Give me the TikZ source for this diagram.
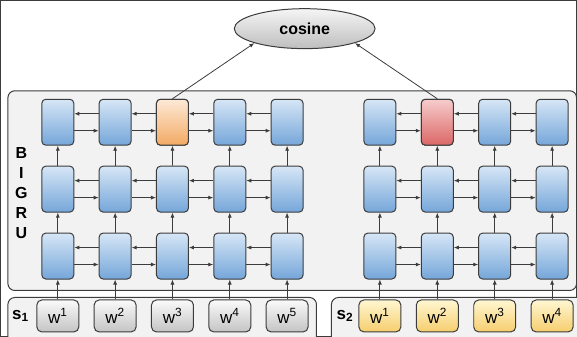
\documentclass[tikz,border=0pt]{standalone}
\usepackage{fontspec}
\setmainfont{Liberation Sans}
\usetikzlibrary{arrows.meta,shapes.geometric}
\definecolor{edgegray}{RGB}{60,60,60}
\definecolor{panelfill}{RGB}{242,242,242}
\definecolor{blutop}{RGB}{214,230,246}
\definecolor{blubot}{RGB}{117,166,217}
\tikzset {
    cell/.style = {shape=rectangle, draw=edgegray, line width=1pt, rounded corners=4pt,
        minimum width=32pt, minimum height=46pt, inner sep=0pt, top color=blutop, bottom color=blubot},
    hlone/.style = {top color={rgb,255:red,253;green,233;blue,214}, bottom color={rgb,255:red,242;green,170;blue,100}},
    hltwo/.style = {top color={rgb,255:red,246;green,204;blue,204}, bottom color={rgb,255:red,220;green,102;blue,102}},
    word/.style = {shape=rectangle, draw=edgegray, line width=1pt, rounded corners=5pt,
        minimum width=42pt, minimum height=32pt, inner sep=0pt, font=\fontsize{17}{17}\selectfont},
    wgray/.style = {word, top color={rgb,255:red,250;green,250;blue,250}, bottom color={rgb,255:red,196;green,196;blue,196}},
    wyell/.style = {word, top color={rgb,255:red,255;green,247;blue,210}, bottom color={rgb,255:red,246;green,206;blue,110}},
    panel/.style = {shape=rectangle, draw=edgegray, line width=1pt, fill=panelfill, rounded corners=7pt, inner sep=0pt},
    lbl/.style = {font=\fontsize{17}{17}\selectfont\bfseries, inner sep=0pt}
}

\begin{document}
\begin{tikzpicture}[x=1pt, y=1pt, >={Latex[length=5pt,width=4pt]}, every path/.style={line width=0.8pt, draw=edgegray}]
	\useasboundingbox (0,0) rectangle (577,336);
	% panels
	\node (gru) [panel, anchor=south west, minimum width=569.5pt, minimum height=200pt] at (7,45) {};
	\node (p1) [panel, anchor=north west, minimum width=309pt, minimum height=50pt] at (7,39) {};
	\node (p2) [panel, anchor=north west, minimum width=260pt, minimum height=50pt] at (331,39) {};
	\foreach \ch [count=\i] in {B,I,G,R,U}
		\node (let-\i) [lbl, font=\fontsize{16}{16}\selectfont\bfseries] at (21,{183-20*(\i-1)}) {\ch};
	\node (s1) [lbl] at (20,20) {s\textsubscript{1}};
	\node (s2) [lbl] at (345,20) {s\textsubscript{2}};
	% sentence 1
	\foreach \c in {1,...,5} {
		\node (x1-\c) [wgray] at ({57.5+57.4*(\c-1)},20) {w\textsuperscript{\c}};
		\foreach \r in {1,2,3}
			\node (a-\r-\c) [cell] at ({57.5+57.4*(\c-1)},{80+67*(\r-1)}) {};
	}
	\node (a-3-3) [cell, hlone] at (172.3,214) {};
	% sentence 2
	\foreach \c in {1,...,4} {
		\node (x2-\c) [wyell] at ({380+57.5*(\c-1)},20) {w\textsuperscript{\c}};
		\foreach \r in {1,2,3}
			\node (b-\r-\c) [cell] at ({380+57.5*(\c-1)},{80+67*(\r-1)}) {};
	}
	\node (b-3-2) [cell, hltwo] at (437.5,214) {};
	% recurrent links
	\foreach \r in {1,2,3} {
		\foreach \c/\n in {1/2,2/3,3/4,4/5} {
			\draw[->] ([yshift=8.5pt]a-\r-\n.west) -- ([yshift=8.5pt]a-\r-\c.east);
			\draw[->] ([yshift=-8.5pt]a-\r-\c.east) -- ([yshift=-8.5pt]a-\r-\n.west);
		}
		\foreach \c/\n in {1/2,2/3,3/4} {
			\draw[->] ([yshift=8.5pt]b-\r-\n.west) -- ([yshift=8.5pt]b-\r-\c.east);
			\draw[->] ([yshift=-8.5pt]b-\r-\c.east) -- ([yshift=-8.5pt]b-\r-\n.west);
		}
	}
	% layers
	\foreach \c in {1,...,5} {
		\draw[->] (x1-\c.north) -- (a-1-\c.south);
		\draw[->] (a-1-\c.north) -- (a-2-\c.south);
		\draw[->] (a-2-\c.north) -- (a-3-\c.south);
	}
	\foreach \c in {1,...,4} {
		\draw[->] (x2-\c.north) -- (b-1-\c.south);
		\draw[->] (b-1-\c.north) -- (b-2-\c.south);
		\draw[->] (b-2-\c.north) -- (b-3-\c.south);
	}
	% similarity
	\node (cos) [shape=ellipse, draw=edgegray, line width=1pt, minimum width=141pt, minimum height=40pt, inner sep=0pt,
		top color={rgb,255:red,245;green,245;blue,245}, bottom color={rgb,255:red,190;green,190;blue,190},
		font=\fontsize{16}{16}\selectfont\bfseries] at (304.7,307.7) {cosine};
	\draw[->] (a-3-3.north) -- (cos.196);
	\draw[->] (b-3-2.north) -- (cos.-16);
\end{tikzpicture}
\end{document}
